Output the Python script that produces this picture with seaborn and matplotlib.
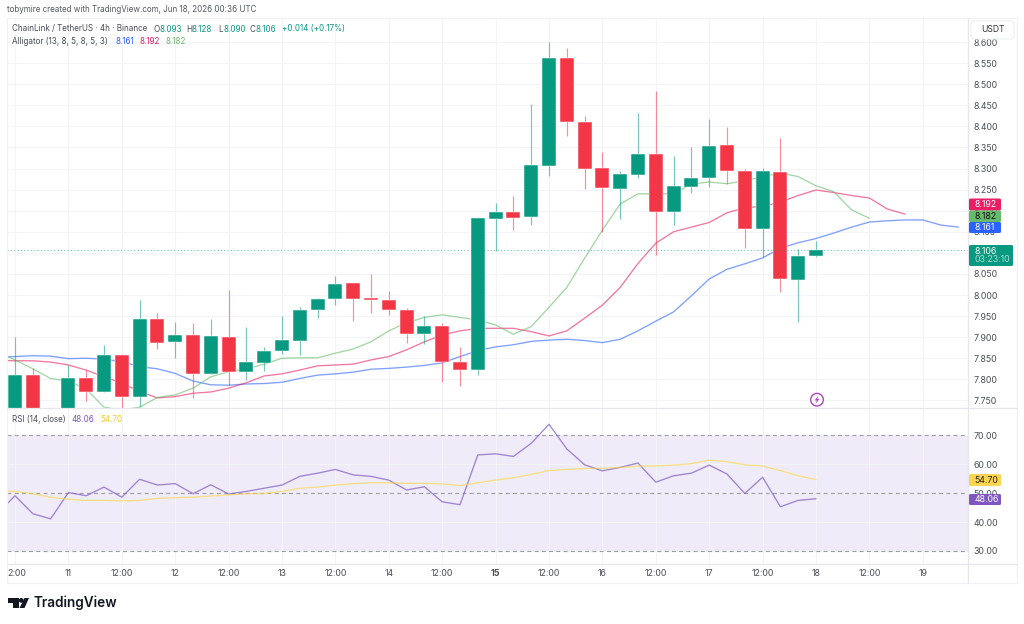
import numpy as np
import pandas as pd
import matplotlib
matplotlib.use("Agg")
import matplotlib.pyplot as plt
from matplotlib.patches import FancyBboxPatch, Polygon, Circle, Rectangle
from matplotlib.lines import Line2D
from matplotlib.transforms import Affine2D, ScaledTranslation
import seaborn as sns

# LINK/USDT 4h candles
opens = [7.70, 7.81, 7.70, 7.67, 7.803, 7.771, 7.858, 7.758, 7.944, 7.888, 7.905, 7.813, 7.900, 7.817, 7.839, 7.867,
         7.891, 7.964, 7.990, 8.028, 7.992, 7.988, 7.965, 7.907, 7.927, 7.841, 7.821, 8.180, 8.198, 8.185, 8.307, 8.561,
         8.410, 8.301, 8.252, 8.285, 8.334, 8.197, 8.257, 8.277, 8.355, 8.294, 8.157, 8.292, 8.035, 8.093]
highs = [7.901, 7.827, 7.725, 7.834, 7.822, 7.882, 7.860, 7.989, 7.958, 7.936, 7.934, 7.942, 8.012, 7.923, 7.877, 7.950,
         7.971, 7.994, 8.045, 8.029, 8.050, 8.010, 7.969, 7.951, 7.933, 7.877, 8.186, 8.219, 8.235, 8.453, 8.600, 8.587,
         8.425, 8.339, 8.294, 8.431, 8.485, 8.329, 8.352, 8.418, 8.399, 8.298, 8.301, 8.372, 8.109, 8.128]
lows = [7.68, 7.68, 7.64, 7.65, 7.748, 7.771, 7.72, 7.734, 7.873, 7.850, 7.755, 7.813, 7.786, 7.798, 7.820, 7.860,
        7.858, 7.946, 7.976, 7.939, 7.957, 7.953, 7.887, 7.883, 7.794, 7.784, 7.810, 8.105, 8.153, 8.165, 8.283, 8.376,
        8.251, 8.150, 8.180, 8.278, 8.095, 8.165, 8.243, 8.256, 8.263, 8.112, 8.089, 8.007, 7.937, 8.090]
closes = [7.81, 7.70, 7.66, 7.803, 7.771, 7.858, 7.758, 7.944, 7.886, 7.905, 7.813, 7.902, 7.817, 7.840, 7.867, 7.893,
          7.965, 7.991, 8.026, 7.990, 7.987, 7.964, 7.907, 7.927, 7.840, 7.821, 8.182, 8.198, 8.182, 8.309, 8.561, 8.410,
          8.299, 8.254, 8.286, 8.334, 8.197, 8.258, 8.277, 8.354, 8.293, 8.157, 8.294, 8.037, 8.093, 8.106]

# Alligator lines, first point one bar before the first candle
jaw = [7.8525, 7.854, 7.856, 7.855, 7.849, 7.850, 7.848, 7.842, 7.830, 7.825, 7.814, 7.796, 7.787, 7.786, 7.789, 7.790,
       7.793, 7.802, 7.810, 7.813, 7.817, 7.824, 7.826, 7.829, 7.833, 7.839, 7.854, 7.868, 7.877, 7.882, 7.890, 7.893,
       7.895, 7.892, 7.887, 7.895, 7.915, 7.938, 7.960, 7.998, 8.038, 8.061, 8.074, 8.088, 8.111, 8.124, 8.134, 8.147,
       8.161, 8.173, 8.176, 8.178, 8.178, 8.166, 8.161]
teeth = [7.845, 7.844, 7.844, 7.841, 7.834, 7.822, 7.806, 7.791, 7.771, 7.756, 7.759, 7.767, 7.770, 7.779, 7.792, 7.808,
         7.813, 7.822, 7.832, 7.834, 7.836, 7.846, 7.854, 7.870, 7.889, 7.905, 7.915, 7.921, 7.921, 7.921, 7.913, 7.903,
         7.915, 7.945, 7.976, 8.018, 8.075, 8.123, 8.150, 8.161, 8.172, 8.195, 8.207, 8.210, 8.220, 8.236, 8.249, 8.243,
         8.236, 8.230, 8.204, 8.192]
lips = [7.865, 7.846, 7.825, 7.802, 7.796, 7.777, 7.734, 7.727, 7.734, 7.757, 7.763, 7.779, 7.806, 7.818, 7.825, 7.836,
        7.850, 7.851, 7.851, 7.862, 7.872, 7.889, 7.915, 7.934, 7.947, 7.953, 7.947, 7.941, 7.929, 7.907, 7.925, 7.971,
        8.018, 8.087, 8.154, 8.216, 8.240, 8.240, 8.240, 8.263, 8.268, 8.264, 8.271, 8.281, 8.289, 8.281, 8.259, 8.245,
        8.202, 8.182]

# RSI(14) and its moving average
rsi = [42.8, 49.1, 42.9, 41.1, 50.2, 49.1, 52.1, 48.6, 54.8, 52.8, 53.3, 49.8, 52.9, 49.7, 50.6, 51.7, 52.8, 55.8, 56.9,
       58.2, 56.3, 55.8, 54.5, 51.1, 52.2, 47.0, 46.0, 63.2, 63.6, 62.7, 67.2, 73.8, 65.3, 59.8, 57.7, 58.9, 60.4, 53.8,
       56.0, 56.9, 59.7, 56.6, 49.9, 55.5, 45.3, 47.5, 48.06]
rsi_ma = [50.9, 50.6, 49.8, 48.6, 47.9, 47.5, 47.5, 47.3, 47.5, 48.2, 48.4, 48.6, 49.0, 49.4, 49.8, 49.9, 50.6, 51.7, 52.1,
          52.8, 53.3, 53.6, 53.6, 53.4, 53.4, 53.2, 52.6, 53.6, 54.5, 55.3, 56.5, 57.8, 58.2, 58.5, 58.6, 58.9, 59.3, 59.4,
          59.7, 60.2, 61.4, 60.9, 59.8, 59.4, 57.8, 56.0, 54.70]

price_ticks = [8.60, 8.55, 8.50, 8.45, 8.40, 8.35, 8.30, 8.25, 8.20, 8.15, 8.10, 8.05, 8.00, 7.95, 7.90, 7.85, 7.80, 7.75]
rsi_ticks = [70, 60, 50, 40, 30]
time_labels = ["2:00", "11", "12:00", "12", "12:00", "13", "12:00", "14", "12:00", "15",
               "12:00", "16", "12:00", "17", "12:00", "18", "12:00", "19"]

GREEN, RED = "#089981", "#F23645"
BLUE, PINK, LIME = "#2962FF", "#E91E63", "#66BB6A"
PURPLE, YELLOW = "#7E57C2", "#FDD835"
GRID = "#f3f4f7"
TEXT = "#4a4d57"
AXIS_SIZE = 6.35
LEGEND_SIZE = 5.8

sns.set_theme(style="white")
plt.rcParams["font.family"] = ["Inter", "DejaVu Sans"]

fig = plt.figure(figsize=(10.24, 6.24), dpi=100, facecolor="white")
px = Affine2D().scale(1 / 1024, -1 / 624).translate(0, 1) + fig.transFigure


def pane(top, bottom):
    return fig.add_axes([7 / 1024, 1 - bottom / 624, 961 / 1024, (bottom - top) / 624], facecolor="none")


def label(x, y, s, color=TEXT, size=LEGEND_SIZE, **kw):
    kw.setdefault("va", "center")
    fig.text(x, y, s, color=color, fontsize=size, transform=px, zorder=12, **kw)


def tag(x0, x1, y0, y1, color):
    fig.add_artist(FancyBboxPatch((x0, y0), x1 - x0, y1 - y0, boxstyle="round,pad=0,rounding_size=1.5",
                                  facecolor=color, edgecolor="none", transform=px, zorder=10))


ax = pane(18, 408)
rs = pane(408, 564)
xlim = (-0.449, 53.54)
tick_pos = np.arange(0, 52, 3)

for a in (ax, rs):
    a.set_xlim(*xlim)
    a.set_xticks(tick_pos)
    a.grid(True, color=GRID, linewidth=0.8, zorder=0)
    a.set_axisbelow(True)
    for s in a.spines.values():
        s.set_visible(False)

# candles
c = pd.DataFrame({"o": opens, "h": highs, "l": lows, "c": closes})
c["i"] = np.arange(len(c))
c["color"] = np.where(c["c"] >= c["o"], GREEN, RED)
ax.vlines(c["i"], c["l"], c["h"], colors=c["color"], linewidth=0.85, alpha=0.55, zorder=3)
ax.bar(c["i"], (c["c"] - c["o"]).abs(), bottom=c[["o", "c"]].min(axis=1), width=0.78,
       color=c["color"], edgecolor="#ffffff", linewidth=0.35, zorder=4)

# alligator
for values, colour in ((jaw, BLUE), (teeth, PINK), (lips, LIME)):
    sns.lineplot(x=np.arange(-1, len(values) - 1), y=values, ax=ax, color=colour, linewidth=0.95,
                 alpha=0.6, errorbar=None, legend=False, zorder=2)

ax.axhline(closes[-1], color=GREEN, linestyle=(0, (1, 2)), linewidth=0.8, alpha=0.55, zorder=5)
ax.set_ylim(7.732, 8.657)
ax.set_yticks(price_ticks)
ax.set_yticklabels([f"{t:.3f}" for t in price_ticks])
ax.yaxis.tick_right()
ax.tick_params(axis="y", length=0, pad=4.2, labelsize=AXIS_SIZE, labelcolor=TEXT)
ax.tick_params(axis="x", length=0, labelbottom=False)
ax.set_xlabel("")
ax.set_ylabel("")

# RSI pane
rs.axhspan(30, 70, facecolor="#7E57C2", alpha=0.115, linewidth=0, zorder=0)
sns.lineplot(x=np.arange(-1, len(rsi) - 1), y=rsi, ax=rs, color=PURPLE, linewidth=0.95, alpha=0.7,
             errorbar=None, legend=False, zorder=3)
sns.lineplot(x=np.arange(-1, len(rsi_ma) - 1), y=rsi_ma, ax=rs, color=YELLOW, linewidth=0.95, alpha=0.6,
             errorbar=None, legend=False, zorder=3)
for level in (70, 50, 30):
    rs.axhline(level, color="#9a9ca6", linestyle=(0, (3.5, 3)), linewidth=0.8, zorder=2)
rs.set_ylim(25.5, 79.44)
rs.set_yticks(rsi_ticks)
rs.set_yticklabels([f"{t:.2f}" for t in rsi_ticks])
rs.yaxis.tick_right()
rs.tick_params(axis="y", length=0, pad=4.2, labelsize=AXIS_SIZE, labelcolor=TEXT)
rs.set_xticklabels(time_labels)
rs.tick_params(axis="x", length=0, pad=3.5, labelsize=AXIS_SIZE, labelcolor=TEXT)
rs.set_xlabel("")
rs.set_ylabel("")
for lab in rs.get_xticklabels():
    if lab.get_text() == "15":
        lab.set_fontweight("bold")
first = rs.get_xticklabels()[0]
first.set_transform(first.get_transform() + ScaledTranslation(2 / 100, 0, fig.dpi_scale_trans))

# frame and pane separators
fig.add_artist(Rectangle((7, 18), 1010, 565, fill=False, edgecolor="#f1f2f5", linewidth=0.9, transform=px, zorder=1))
for xy in (([968, 968], [18, 583]), ([7, 1017], [408, 408]), ([7, 1017], [564, 564])):
    fig.add_artist(Line2D(xy[0], xy[1], color="#e6e7ec", linewidth=0.9, transform=px, zorder=1))

# currency box on the price scale
fig.add_artist(FancyBboxPatch((971, 21), 43, 18, boxstyle="round,pad=0,rounding_size=3", facecolor="white",
                              edgecolor="#eeeff3", linewidth=0.8, transform=px, zorder=9))
label(992.5, 30, "USDT", color="#33353d", size=6.2, ha="center")

# last-value tags
last_jaw, last_teeth, last_lips = jaw[-1], teeth[-1], lips[-1]
tag(969, 1001, 198.5, 210.5, PINK)
label(974.5, 204.5, f"{last_teeth:.3f}", color="white", size=AXIS_SIZE)
tag(969, 1001, 210.5, 222, LIME)
label(974.5, 216.3, f"{last_lips:.3f}", color="#111111", size=AXIS_SIZE)
tag(969, 1001, 222, 233, BLUE)
label(974.5, 227.8, f"{last_jaw:.3f}", color="white", size=AXIS_SIZE)
tag(969, 1013, 245, 266, GREEN)
label(974.5, 251, f"{closes[-1]:.3f}", color="white", size=AXIS_SIZE)
label(974.5, 260, "03:23:10", color="#a9dcd2", size=AXIS_SIZE)
tag(969, 1001, 474, 486, "#FFD54F")
label(974.5, 480.3, f"{rsi_ma[-1]:.2f}", color="#222222", size=AXIS_SIZE)
tag(969, 1001, 494, 505, PURPLE)
label(974.5, 499.8, f"{rsi[-1]:.2f}", color="white", size=AXIS_SIZE)

# header lines
label(7, 10, "tobymire created with TradingView.com, Jun 18, 2026 00:36 UTC", color="#55585f")
label(12.3, 29, "ChainLink / TetherUS · 4h · Binance")
for x, s, col in ((153, "O", TEXT), (159, f"{opens[-1]:.3f}", GREEN), (186, "H", TEXT), (192, f"{highs[-1]:.3f}", GREEN),
                  (218, "L", TEXT), (223, f"{lows[-1]:.3f}", GREEN), (250, "C", TEXT), (256, f"{closes[-1]:.3f}", GREEN),
                  (282, "+0.014 (+0.17%)", GREEN)):
    label(x, 29, s, color=col)
label(12.3, 41, "Alligator (13, 8, 5, 8, 5, 3)")
label(115, 41, f"{last_jaw:.3f}", color=BLUE)
label(139, 41, f"{last_teeth:.3f}", color=PINK)
label(165, 41, f"{last_lips:.3f}", color=LIME)
label(12.5, 420, "RSI (14, close)")
label(72, 420, f"{rsi[-1]:.2f}", color=PURPLE)
label(100, 420, f"{rsi_ma[-1]:.2f}", color="#F5C92F")

# event marker
fig.add_artist(Circle((817, 399.7), 6.3, facecolor="white", edgecolor="#AB47BC", linewidth=1.0, transform=px, zorder=8))
fig.add_artist(Polygon([(818.5, 395.5), (814.5, 400.5), (816.8, 400.5), (815.5, 404), (819.5, 398.8), (817.2, 398.8)],
                       closed=True, facecolor="#AB47BC", edgecolor="none", transform=px, zorder=9))

# wordmark
for shape in ([(8, 598), (18.5, 598), (18.5, 608), (13, 608), (13, 603), (8, 603)],
              [(24.5, 598), (29, 598), (24.5, 608), (19.5, 608)]):
    fig.add_artist(Polygon(shape, closed=True, facecolor="#131722", edgecolor="none", transform=px, zorder=9))
fig.add_artist(Circle((21.3, 600.4), 2.4, facecolor="#131722", edgecolor="none", transform=px, zorder=9))
fig.text(33.5, 603, "TradingView", color="#131722", fontsize=9.75, fontweight="semibold", va="center",
         transform=px, zorder=12)

fig.savefig("out.png", dpi=100, facecolor="white")
